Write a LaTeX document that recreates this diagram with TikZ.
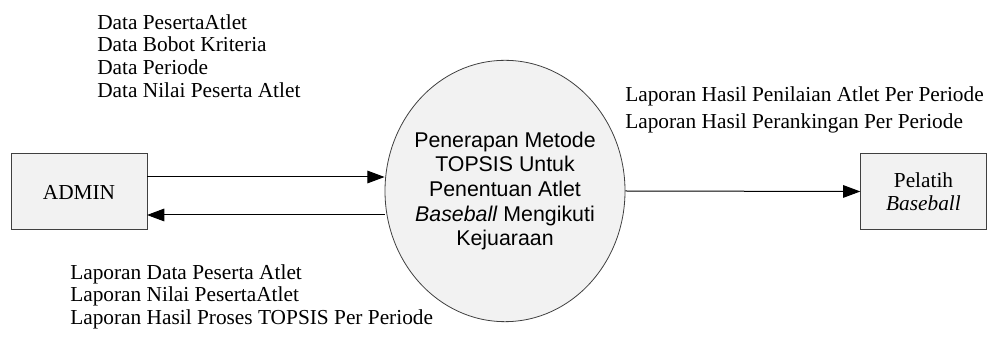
\documentclass[tikz,border=0pt]{standalone}
\usepackage{fontspec}
\setmainfont{Liberation Serif}
\setsansfont{Liberation Sans}
\usetikzlibrary{arrows.meta, shapes.geometric}
\definecolor{boxgray}{HTML}{F2F2F2}
\definecolor{edgegray}{HTML}{404040}

\begin{document}
\begin{tikzpicture}[
    x=0.75pt, y=-0.75pt,
    entity/.style={draw=edgegray, fill=boxgray, line width=0.75pt, minimum width=102pt,
                   minimum height=57pt, inner sep=0pt, align=center,
                   font=\fontsize{16}{17.5}\selectfont},
    process/.style={ellipse, draw=edgegray, fill=boxgray, line width=0.6pt, inner sep=0pt,
                    minimum width=180pt, minimum height=196pt},
    proctext/.style={align=center, inner sep=0pt, font=\sffamily\fontsize{16}{18.5}\selectfont},
    arr/.style={-{Triangle[length=13pt, width=9.5pt]}, line width=0.75pt},
    lbl/.style={anchor=north west, inner sep=0pt, align=left,
                font=\fontsize{16}{17}\selectfont},
  ]
  \useasboundingbox (0,0) rectangle (987,341);

  % ── Entities ──
  \node[entity] (admin) at (79,192) {ADMIN};
  \node[entity, minimum width=94pt] (pelatih) at (923.5,191.5) {Pelatih\\\textit{Baseball}};

  % ── Process ──
  \node[process] (proc) at (505,191) {};
  \node[proctext] (proclbl) at (proc.center)
    {Penerapan Metode\\TOPSIS Untuk\\Penentuan Atlet\\\textit{Baseball} Mengikuti\\Kejuaraan};

  % ── Arrow ends ──
  \coordinate (inA) at (147,177);
  \coordinate (outA) at (147,215);

  % ── Arrows ──
  % Admin → Process
  \draw[arr] (inA) -- (inA -| proc.west);
  % Process → Admin
  \draw[arr] (outA -| proc.west) -- (outA);
  % Process → Pelatih
  \draw[arr] (proc.east) -- (pelatih.west);

  % ── Data flow labels ──
  \node[lbl] (datain) at (97,14)
    {Data PesertaAtlet\\Data Bobot Kriteria\\Data Periode\\Data Nilai Peserta Atlet};
  \node[lbl] (lapadmin) at (70,264)
    {Laporan Data Peserta Atlet\\Laporan Nilai PesertaAtlet\\Laporan Hasil Proses TOPSIS Per Periode};
  \node[lbl, font=\fontsize{16}{20.25}\selectfont] (lappelatih) at (625,86)
    {Laporan Hasil Penilaian Atlet Per Periode\\Laporan Hasil Perankingan Per Periode};

\end{tikzpicture}
\end{document}
